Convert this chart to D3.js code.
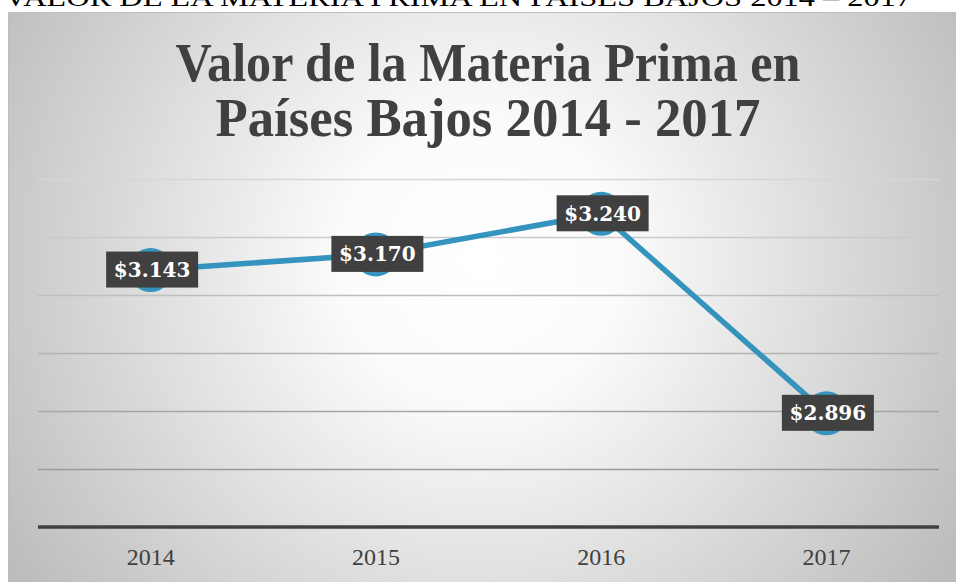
<!DOCTYPE html>
<html>
<head>
<meta charset="utf-8">
<script src="https://cdn.jsdelivr.net/npm/d3@7"></script>
<style>
  html, body { margin: 0; padding: 0; background: #fff; overflow: hidden; }
</style>
</head>
<body>
<script>
// valores
const years = ['2014', '2015', '2016', '2017']
const values = [3143, 3170, 3240, 2896]
const labels = ['$3.143', '$3.170', '$3.240', '$2.896']
const yDomain = [2700, 3300]
const titleLines = ['Valor de la Materia Prima en', 'Países Bajos 2014 - 2017']
const header = 'VALOR DE LA MATERIA PRIMA EN PAISES BAJOS 2014 – 2017'

const width = 956
const height = 582
const serif = '"Liberation Serif", "Times New Roman", serif'
const labelFont = '"DejaVu Serif", serif'

const svg = d3.select('body').append('svg')
  .attr('width', width)
  .attr('height', height)

const defs = svg.append('defs')
const grad = defs.append('radialGradient')
  .attr('id', 'bg')
  .attr('gradientUnits', 'userSpaceOnUse')
  .attr('cx', 480).attr('cy', 260).attr('r', 560)
grad.append('stop').attr('offset', 0).attr('stop-color', '#ffffff')
grad.append('stop').attr('offset', 0.25).attr('stop-color', '#fbfbfb')
grad.append('stop').attr('offset', 1).attr('stop-color', '#bcbcbc')

// texto de la pagina cortado arriba
svg.append('text')
  .attr('x', 4)
  .attr('y', 6)
  .attr('font-family', serif)
  .attr('font-size', 26)
  .attr('fill', '#000')
  .attr('textLength', 908)
  .attr('lengthAdjust', 'spacingAndGlyphs')
  .text(header)

// area del grafico
svg.append('rect')
  .attr('x', 8.5).attr('y', 12.5)
  .attr('width', 980).attr('height', 600)
  .attr('fill', 'url(#bg)')
  .attr('stroke', '#bdbdbd')
  .attr('stroke-width', 1)

const title = svg.append('g')
  .attr('font-family', serif)
  .attr('font-weight', 'bold')
  .attr('font-size', 55)
  .attr('fill', '#404040')
  .attr('text-anchor', 'middle')
title.selectAll('text')
  .data(titleLines)
  .join('text')
  .attr('x', 488)
  .attr('y', (d, i) => 81 + i * 55)
  .attr('textLength', (d, i) => i === 0 ? 625 : 545)
  .attr('lengthAdjust', 'spacingAndGlyphs')
  .text(d => d)

const x = d3.scaleBand().domain(years).range([38, 939])
const y = d3.scaleLinear().domain(yDomain).range([527, 179])
const gridColor = d3.scaleLinear().domain([179, 469]).range(['#d6d6d6', '#9a9a9a'])

// lineas de cuadricula
svg.append('g')
  .selectAll('line')
  .data(y.ticks(6).filter(t => t > yDomain[0]))
  .join('line')
  .attr('x1', 38).attr('x2', 939)
  .attr('y1', d => Math.round(y(d)) + 0.5)
  .attr('y2', d => Math.round(y(d)) + 0.5)
  .attr('stroke', d => gridColor(y(d)))
  .attr('stroke-width', 1.3)

// eje x
const xAxis = svg.append('g')
  .attr('transform', `translate(0,${y(yDomain[0])})`)
  .call(d3.axisBottom(x).tickSize(0).tickPadding(28))
xAxis.select('.domain')
  .attr('d', 'M38,0H939')
  .attr('stroke', '#404040')
  .attr('stroke-width', 3.5)
xAxis.selectAll('text')
  .attr('font-family', serif)
  .attr('font-size', 24)
  .attr('fill', '#404040')
  .attr('dy', '0.4em')

const cx = (d, i) => x(years[i]) + x.bandwidth() / 2

// serie
svg.append('path')
  .datum(values)
  .attr('fill', 'none')
  .attr('stroke', '#3494be')
  .attr('stroke-width', 5.5)
  .attr('stroke-linejoin', 'round')
  .attr('d', d3.line().x(cx).y(d => y(d)))

svg.append('g')
  .selectAll('circle')
  .data(values)
  .join('circle')
  .attr('cx', cx)
  .attr('cy', d => y(d))
  .attr('r', 22)
  .attr('fill', '#3494be')

// etiquetas de datos
const lab = svg.append('g')
  .selectAll('g')
  .data(values)
  .join('g')
  .attr('transform', (d, i) => `translate(${cx(d, i) + 1.5},${y(d) - 0.5})`)
lab.append('rect')
  .attr('x', -46).attr('y', -18)
  .attr('width', 92).attr('height', 36)
  .attr('fill', '#404040')
lab.append('text')
  .attr('text-anchor', 'middle')
  .attr('dy', '0.36em')
  .attr('font-family', labelFont)
  .attr('font-weight', 'bold')
  .attr('font-size', 20)
  .attr('fill', '#fff')
  .text((d, i) => labels[i])
</script>
</body>
</html>
